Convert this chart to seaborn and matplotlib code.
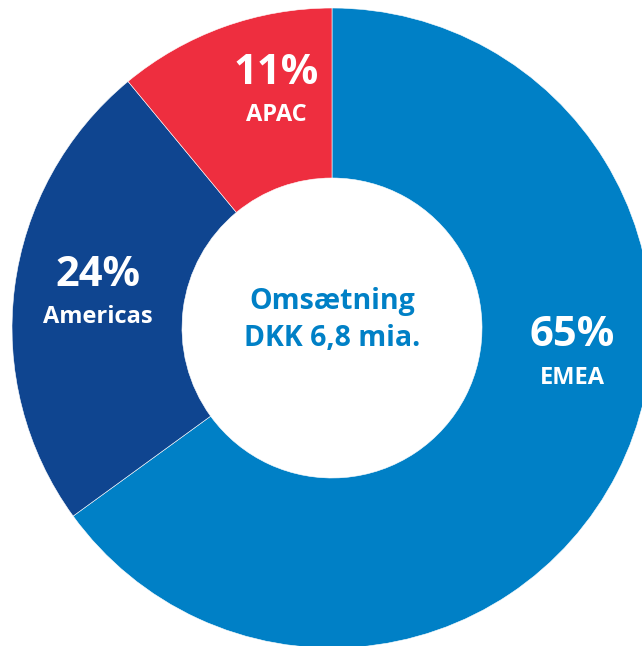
import matplotlib
matplotlib.use("Agg")
import matplotlib.pyplot as plt
import seaborn as sns

# data
regions = ["EMEA", "Americas", "APAC"]
shares = [65, 24, 11]
colors = ["#0080c6", "#0f4590", "#ee2e3f"]
center_lines = ["Omsætning", "DKK 6,8 mia."]

sns.set_theme(style="white")
plt.rcParams["font.family"] = ["Open Sans", "DejaVu Sans"]

fig = plt.figure(figsize=(6.42, 6.46), dpi=100)
ax = fig.add_axes([0, 0, 1, 1])

# donut, clockwise from top
wedges, _ = ax.pie(shares, colors=colors, radius=320, startangle=90,
                   counterclock=False,
                   wedgeprops=dict(width=170, edgecolor="white", linewidth=0.4))

ax.set_xlim(-332, 310)
ax.set_ylim(-318, 328)
ax.set_aspect("equal")
ax.axis("off")

# hand placed labels (pixel offsets from centre)
label_pos = {"EMEA": (240, -8), "Americas": (-234, 53), "APAC": (-56, 255)}
for name, val in zip(regions, shares):
    x, y = label_pos[name]
    ax.text(x, y, f"{val}%", ha="center", va="center", color="white",
            fontsize=30, fontweight="bold")
    ax.text(x, y - 42, name, ha="center", va="center", color="white",
            fontsize=17, fontweight="bold")

ax.text(0, 27, center_lines[0], ha="center", va="center", color=colors[0],
        fontsize=20.5, fontweight="bold")
ax.text(0, -10, center_lines[1], ha="center", va="center", color=colors[0],
        fontsize=20.5, fontweight="bold")

fig.savefig("out.png", dpi=100)
